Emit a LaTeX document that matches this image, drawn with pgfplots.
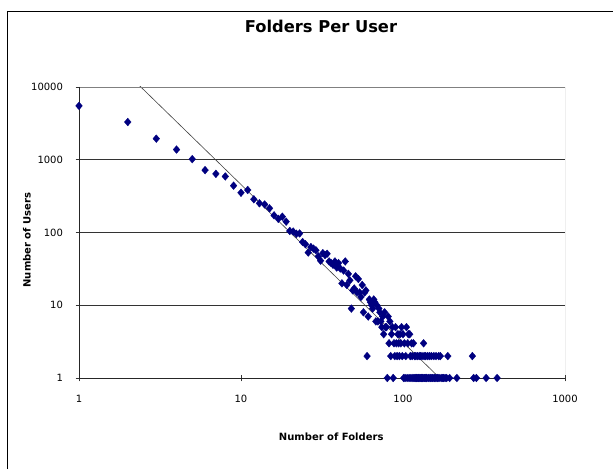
\documentclass[border=0pt]{standalone}
\usepackage{fontspec}
\setmainfont{DejaVu Sans}
\usepackage{pgfplots}
\usepackage{pgfplotstable}
\pgfplotsset{compat=1.18}
\definecolor{navy}{RGB}{0,0,128}

% number of folders vs. number of users owning that many folders
\pgfplotstableread{
folders users
1 5500
2 3300
3 1950
4 1380
5 1020
6 720
7 640
8 590
9 440
10 352
11 384
12 286
13 252
14 243
15 215
16 172
17 154
18 165
19 141
20 105
21 103
22 96
23 97
24 74
25 69
26 53
27 63
28 60
29 57
30 47
31 41
32 52
33 49
34 51
35 40
36 38
37 36
38 40
39 33
40 38
41 32
42 20
43 30
44 40
45 19
46 27
47 22
48 9
49 16
50 17
51 25
52 15
53 23
54 15
55 13
56 19
57 8
58 15
59 16
60 2
61 7
62 12
63 11
64 10
65 9
66 12
67 11
68 6
69 10
70 6
71 9
72 8
73 6
74 5
75 7
76 4
77 8
78 5
79 5
80 1
81 7
82 3
83 6
84 2
85 4
86 5
87 1
88 3
89 2
90 5
91 3
92 2
93 4
94 3
95 2
96 4
97 3
98 5
99 2
100 4
101 1
102 3
103 1
104 2
105 5
106 1
107 3
108 4
109 1
110 4
111 2
112 1
113 3
114 2
115 1
116 3
117 1
118 2
119 1
120 2
121 1
122 1
123 2
124 1
125 1
126 2
127 1
128 2
129 1
130 1
131 2
132 1
133 1
134 3
135 2
136 1
137 1
138 2
139 1
140 1
142 2
143 1
145 1
146 2
148 1
150 2
151 1
153 1
155 2
156 1
158 1
160 2
162 1
164 1
166 2
167 1
170 2
172 1
175 1
178 1
182 1
186 1
189 2
194 1
215 1
268 2
273 1
284 1
326 1
381 1
}\usersdata

% power-law trendline end points
\pgfplotstableread{
folders users
1 67300
389 0.163
}\trenddata

\begin{document}
\begin{tikzpicture}[x=1pt,y=1pt]
\useasboundingbox (0,0) rectangle (613,469);
\draw[line width=1pt] (7.5,0) -- (7.5,457.5) -- (613,457.5);
\begin{axis}[
  at={(79pt,91pt)}, anchor=south west,
  scale only axis, width=486pt, height=291pt,
  xmode=log, ymode=log,
  xmin=1, xmax=1000, ymin=1, ymax=10000,
  xtick={1,10,100,1000}, xticklabels={1,10,100,1000},
  ytick={1,10,100,1000,10000}, yticklabels={1,10,100,1000,10000},
  minor tick style={draw=none},
  tick pos=left, tick align=center, major tick length=7pt,
  tick style={black!80, line width=0.8pt},
  axis line style={draw=none},
  ymajorgrids, grid style={black!80, line width=0.9pt},
  ticklabel style={font=\fontsize{10}{12}\selectfont},
  xticklabel style={yshift=-10pt},
  yticklabel style={xshift=-9pt},
  title={\fontsize{16.3}{19}\selectfont\bfseries Folders Per User},
  title style={at={(axis description cs:0.498,1.168)}, anchor=base},
  xlabel={\fontsize{10}{12}\selectfont\bfseries Number of Folders},
  xlabel style={at={(axis description cs:0.519,-0.203)}, anchor=center},
  ylabel={\fontsize{10}{12}\selectfont\bfseries Number of Users},
  ylabel style={at={(axis description cs:-0.107,0.474)}, anchor=center},
]
\addplot[black!75, line width=0.6pt, no marks] table[x=folders,y=users] {\trenddata};
\addplot[only marks, mark=diamond*, mark size=3.9pt,
  mark options={xscale=1.15, fill=navy, draw=navy, line width=0.3pt}]
  table[x=folders,y=users] {\usersdata};
\draw[gray, line width=0.8pt] (rel axis cs:0,1) -- (rel axis cs:1,1) -- (rel axis cs:1,0);
\draw[black!85, line width=0.8pt] (rel axis cs:0,1) -- (rel axis cs:0,0) -- (rel axis cs:1,0);
\end{axis}
\end{tikzpicture}
\end{document}
